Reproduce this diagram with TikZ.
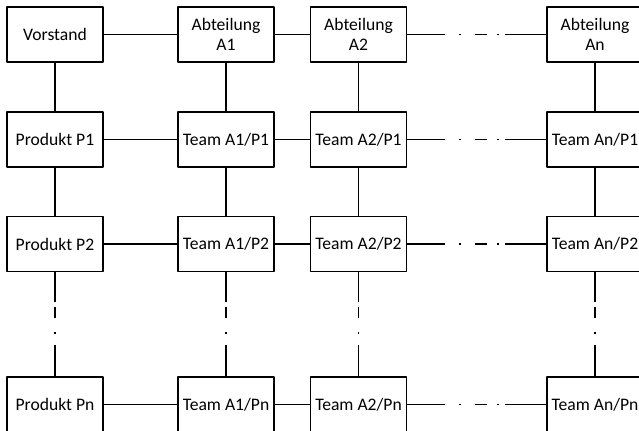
\documentclass[tikz,border=0pt]{standalone}
\usepackage{fontspec}
\setmainfont{Carlito}
\begin{document}
\begin{tikzpicture}[x=0.75pt, y=-0.75pt, line join=round, line width=1pt,
    box/.style={draw, fill=white, minimum width=72pt, minimum height=41.25pt, inner sep=1pt,
      align=center, font=\fontsize{13.2}{15.5}\selectfont},
    hgap/.style={dash pattern=on 28.5pt off 10.5pt on 1.5pt off 10.5pt on 9pt off 7.5pt on 1.5pt off 4.5pt on 60pt},
    vgap/.style={dash pattern=on 22.5pt off 3.75pt on 8.25pt off 10.5pt on 1.5pt off 8.25pt on 60pt}]
  \useasboundingbox (0,0) rectangle (639,430);
  \clip (0,0) rectangle (639,430);
  \def\xa{55}\def\xb{226}\def\xc{358.5}\def\xd{595}
  \def\ya{34.5}\def\yb{139.5}\def\yc{244}\def\yd{404.5}
  % Kopfzeile
  \node[box] (vorstand) at (\xa,\ya) {Vorstand};
  \node[box] (a1) at (\xb,\ya) {Abteilung\\A1};
  \node[box] (a2) at (\xc,\ya) {Abteilung\\A2};
  \node[box] (an) at (\xd,\ya) {Abteilung\\An};
  % Produkte und Teams
  \foreach \p/\y in {1/\yb,2/\yc,n/\yd}{
    \node[box] (p\p) at (\xa,\y) {Produkt P\p};
    \node[box] (t1\p) at (\xb,\y) {Team A1/P\p};
    \node[box] (t2\p) at (\xc,\y) {Team A2/P\p};
    \node[box] (tn\p) at (\xd,\y) {Team An/P\p};
  }
  % waagerecht
  \draw (vorstand) -- (a1);
  \draw (a1) -- (a2);
  \draw[hgap] (a2.east) -- (an.west);
  \foreach \p in {1,2,n}{
    \draw (p\p) -- (t1\p);
    \draw (t1\p) -- (t2\p);
    \draw[hgap] (t2\p.east) -- (tn\p.west);
  }
  % senkrecht
  \draw (vorstand) -- (p1);
  \draw (p1) -- (p2);
  \draw[vgap] (p2.south) -- (pn.north);
  \foreach \s/\k in {a1/1,a2/2,an/n}{
    \draw (\s) -- (t\k1);
    \draw (t\k1) -- (t\k2);
    \draw[vgap] (t\k2.south) -- (t\k n.north);
  }
\end{tikzpicture}
\end{document}
